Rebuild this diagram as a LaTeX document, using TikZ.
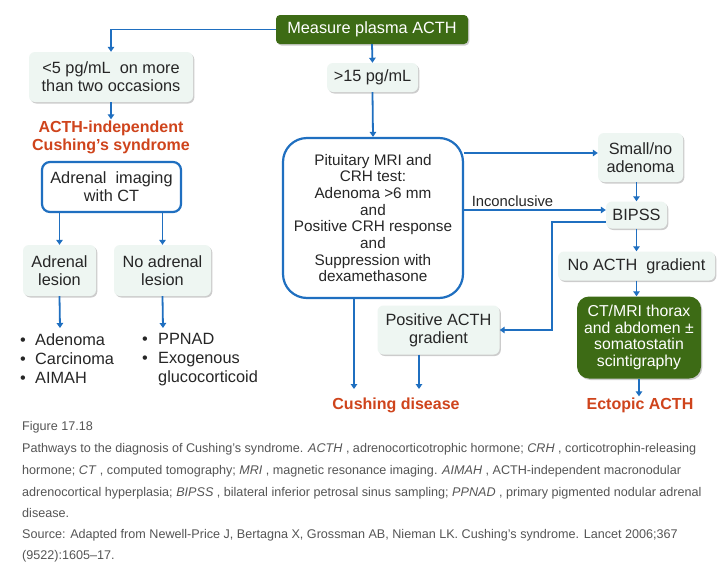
\documentclass[tikz,border=0pt]{standalone}
\usepackage{fontspec}
\setmainfont{Liberation Sans}
\usetikzlibrary{arrows.meta,shadows}
\definecolor{flowblue}{HTML}{1F6FC0}
\definecolor{boxfill}{HTML}{EEF6F2}
\definecolor{darkgreen}{HTML}{3D6B15}
\definecolor{redtxt}{HTML}{CF441C}
\definecolor{captgray}{HTML}{555555}
\newcommand{\boxfont}{\fontsize{16.3}{18}\selectfont}
\newcommand{\pitfont}{\fontsize{15.3}{16.7}\selectfont}
\newcommand{\captfont}{\fontsize{12.6}{22}\selectfont}
\tikzset{
  lightbox/.style={fill=boxfill, rounded corners=6pt, align=center, inner sep=1pt,
    font=\boxfont, text=black!85,
    drop shadow={shadow xshift=1.3pt, shadow yshift=-1.5pt, fill=black, opacity=0.2}},
  bluebox/.style={draw=flowblue, line width=2.2pt, fill=white, align=center, inner sep=1pt, text=black!85},
  greenbox/.style={fill=darkgreen, text=white, align=center, inner sep=1pt,
    drop shadow={shadow xshift=1.3pt, shadow yshift=-1.5pt, fill=black, opacity=0.2}},
  redlabel/.style={text=redtxt, font=\fontsize{16}{18}\selectfont\bfseries, align=center, inner sep=1pt},
  arr/.style={draw=flowblue, line width=1.8pt, -{Triangle[length=5pt,width=6.5pt]}},
  capt/.style={anchor=base west, inner sep=0pt, text=captgray, font=\captfont},
  listtxt/.style={anchor=north west, align=left, inner sep=0pt, font=\fontsize{16.3}{19}\selectfont, text=black!85},
}
\begin{document}
\begin{tikzpicture}[x=1pt,y=-1pt]
\useasboundingbox (0,0) rectangle (728,565);
\fill[white] (0,0) rectangle (728,565);

% top
\node[greenbox, rounded corners=4pt, minimum width=192pt, minimum height=29pt, font=\boxfont] (measure) at (372,29.5) {Measure plasma ACTH};

% left branch
\node[lightbox, minimum width=164pt, minimum height=50pt] (lt5) at (111,77) {<5 pg/mL\ \ on more\\than two occasions};
\node[redlabel] (indep) at (111,137) {ACTH-independent\\Cushing’s syndrome};
\node[bluebox, rounded corners=8pt, minimum width=139pt, minimum height=50pt, font=\boxfont] (adimg) at (111.5,187) {Adrenal\ \ imaging\\with CT};
\node[lightbox, minimum width=73pt, minimum height=51pt] (adles) at (59.5,270.5) {Adrenal\\lesion};
\node[lightbox, minimum width=97pt, minimum height=51pt] (noadles) at (162.5,270.5) {No adrenal\\lesion};
\coordinate (a1) at (60,328);
\coordinate (a2) at (163,328);
\node[listtxt] (list1) at (20,333) {\makebox[15pt][l]{•}Adenoma\\\makebox[15pt][l]{•}Carcinoma\\\makebox[15pt][l]{•}AIMAH};
\node[listtxt] (list2) at (142,333) {\makebox[16pt][l]{•}PPNAD\\\makebox[16pt][l]{•}Exogenous\\\hspace*{16pt}glucocorticoid};

% right branch
\node[lightbox, minimum width=91pt, minimum height=29pt] (gt15) at (372.5,77.5) {>15 pg/mL};
\node[bluebox, rounded corners=24pt, minimum width=180pt, minimum height=160pt, font=\pitfont] (pit) at (373,218)
  {Pituitary MRI and\\CRH test:\\Adenoma >6 mm\\and\\Positive CRH response\\and\\Suppression with\\dexamethasone};
\node[lightbox, minimum width=85pt, minimum height=49pt] (small) at (640.5,157.5) {Small/no\\adenoma};
\node[lightbox, minimum width=61pt, minimum height=27pt] (bipss) at (636.5,215) {BIPSS};
\node[lightbox, minimum width=157pt, minimum height=29pt] (noacth) at (636.5,266) {No ACTH\ \ gradient};
\node[greenbox, rounded corners=12pt, minimum width=124pt, minimum height=82pt, font=\fontsize{15.8}{16.5}\selectfont] (ctmri) at (639,337.5)
  {CT/MRI thorax\\and abdomen ±\\somatostatin\\scintigraphy};
\node[redlabel] (ectopic) at (640,405) {Ectopic ACTH};
\node[lightbox, minimum width=122pt, minimum height=49pt] (posacth) at (438.5,330) {Positive ACTH\\gradient};
\node[redlabel] (cushing) at (396,405) {Cushing disease};
\coordinate (c1) at (354,389);
\coordinate (c2) at (419,389);
\coordinate (bend) at (552,330);

% connectors
\draw[arr] (measure.west) -| (lt5.north);
\draw[arr] (lt5.south) -- (indep.north);
\draw[arr] (adles.north |- adimg.south) -- (adles.north);
\draw[arr] (noadles.north |- adimg.south) -- (noadles.north);
\draw[arr] (adles.south) -- (a1);
\draw[arr] (noadles.south) -- (a2);
\draw[arr] (measure.south) -- (gt15.north);
\draw[arr] (gt15.south) -- (pit.north);
\draw[arr] ([yshift=4.5pt]small.west -| pit.east) -- ([yshift=4.5pt]small.west);
\draw[arr] (bipss.north |- small.south) -- (bipss.north);
\draw[arr] ([yshift=5pt]bipss.west -| pit.east) -- node[pos=0.03, anchor=south west, font=\fontsize{14.8}{16}\selectfont, text=black!85, inner sep=2.5pt] (inconc) {Inconclusive} ([yshift=5pt]bipss.west);
\draw[arr] ([yshift=-7pt]bipss.west) -| (bend) -- (posacth.east);
\draw[arr] (bipss.south) -- (bipss.south |- noacth.north);
\draw[arr] (noacth.south) -- (noacth.south |- ctmri.north);
\draw[arr] (ctmri.south) -- (ctmri.south |- ectopic.north);
\draw[arr] (pit.south -| c1) -- (c1);
\draw[arr] (posacth.south -| c2) -- (c2);

% caption
\node[capt] (fig) at (22,430) {Figure 17.18};
\node[capt] (cap1) at (22,452) {Pathways to the diagnosis of Cushing’s syndrome. \textit{ACTH} , adrenocorticotrophic hormone; \textit{CRH} , corticotrophin-releasing};
\node[capt] (cap2) at (22,474.5) {hormone; \textit{CT} , computed tomography; \textit{MRI} , magnetic resonance imaging. \textit{AIMAH} , ACTH-independent macronodular};
\node[capt] (cap3) at (22,496.5) {adrenocortical hyperplasia; \textit{BIPSS} , bilateral inferior petrosal sinus sampling; \textit{PPNAD} , primary pigmented nodular adrenal};
\node[capt] (cap4) at (22,517) {disease.};
\node[capt] (cap5) at (22,538) {Source: Adapted from Newell-Price J, Bertagna X, Grossman AB, Nieman LK. Cushing’s syndrome. Lancet 2006;367};
\node[capt] (cap6) at (22,559) {(9522):1605–17.};
\end{tikzpicture}
\end{document}
